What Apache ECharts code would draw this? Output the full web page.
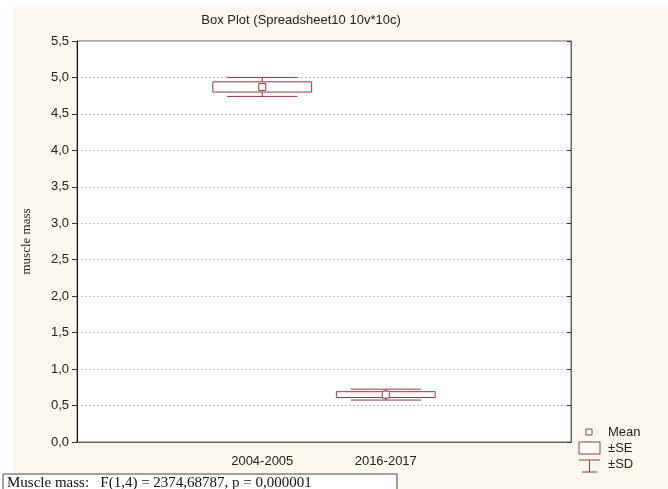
<!DOCTYPE html>
<html>
<head>
    <meta charset="UTF-8">
    <title>Box Plot</title>
    <script src="https://cdn.jsdelivr.net/npm/echarts@6/dist/echarts.min.js"></script>
    <style>
        html, body { margin: 0; padding: 0; background: #fff; }
        #main { width: 668px; height: 489px; }
    </style>
</head>
<body>
<div id="main"></div>
<script>
    // categories (first and last slot empty, like the original plot)
    var categories = ['', '2004-2005', '2016-2017', ''];
    var groupIndex = [1, 2];
    var means = [4.87, 0.65];
    var seValues = [0.07, 0.04];
    var sdValues = [0.13, 0.075];

    var boxColor = '#8c3a40';
    var font = 'Liberation Sans';

    var chart = echarts.init(document.getElementById('main'), null, {renderer: 'canvas'});

    var boxData = [];
    for (var i = 0; i < means.length; i++) {
        boxData.push([groupIndex[i], means[i], seValues[i], sdValues[i]]);
    }

    function fmt(v) {
        return v.toFixed(1).replace('.', ',');
    }

    function renderBox(params, api) {
        var idx = api.value(0), m = api.value(1), se = api.value(2), sd = api.value(3);
        var c = api.coord([idx, m]);
        var band = api.size([1, 0])[0];
        var boxHalf = band * 0.4;
        var capHalf = band * 0.285;
        var yBoxTop = api.coord([idx, m + se])[1];
        var yBoxBot = api.coord([idx, m - se])[1];
        var ySdTop = api.coord([idx, m + sd])[1];
        var ySdBot = api.coord([idx, m - sd])[1];
        var x = c[0];
        var st = {stroke: boxColor, lineWidth: 1, fill: null};
        return {
            type: 'group',
            children: [
                {type: 'line', shape: {x1: x, y1: ySdTop, x2: x, y2: yBoxTop}, style: st},
                {type: 'line', shape: {x1: x, y1: yBoxBot, x2: x, y2: ySdBot}, style: st},
                {type: 'line', shape: {x1: x - capHalf, y1: ySdTop, x2: x + capHalf, y2: ySdTop}, style: st},
                {type: 'line', shape: {x1: x - capHalf, y1: ySdBot, x2: x + capHalf, y2: ySdBot}, style: st},
                {type: 'rect', shape: {x: x - boxHalf, y: yBoxTop, width: boxHalf * 2, height: yBoxBot - yBoxTop},
                    style: {stroke: boxColor, lineWidth: 1, fill: '#fff'}},
                {type: 'rect', shape: {x: x - 3.5, y: c[1] - 3.5, width: 7, height: 7},
                    style: {stroke: boxColor, lineWidth: 1, fill: '#fff'}}
            ]
        };
    }

    var option = {
        backgroundColor: '#fdf8ee',
        animation: false,
        title: {
            text: 'Box Plot (Spreadsheet10 10v*10c)',
            left: 296, top: 9, textAlign: 'center',
            textStyle: {fontFamily: font, fontSize: 13, fontWeight: 'normal', color: '#222'}
        },
        grid: {
            left: 77, right: 97, top: 41, bottom: 47,
            show: true, backgroundColor: '#fff', borderColor: '#666', borderWidth: 1
        },
        xAxis: [{
            type: 'category', data: categories, boundaryGap: true,
            axisLine: {lineStyle: {color: '#555'}},
            axisTick: {alignWithLabel: true, inside: true, length: 4, lineStyle: {color: '#222'}},
            axisLabel: {fontFamily: font, fontSize: 13, color: '#222', margin: 13},
            splitLine: {show: false}
        }, {
            type: 'category', data: categories, position: 'top', boundaryGap: true,
            axisLine: {lineStyle: {color: '#666'}},
            axisTick: {alignWithLabel: true, inside: true, length: 4, lineStyle: {color: '#222'}},
            axisLabel: {show: false}
        }],
        yAxis: [{
            type: 'value', min: 0, max: 5.5, interval: 0.5,
            name: 'muscle mass', nameLocation: 'middle', nameGap: 44,
            nameTextStyle: {fontFamily: 'Liberation Serif', fontSize: 13, color: '#222'},
            axisLine: {show: true, lineStyle: {color: '#111'}},
            axisTick: {show: true, length: 5, lineStyle: {color: '#333'}},
            axisLabel: {fontFamily: font, fontSize: 13, color: '#222', margin: 8, formatter: fmt},
            splitLine: {show: true, lineStyle: {color: '#c4c4c4', type: [2, 2]}}
        }, {
            type: 'value', min: 0, max: 5.5, interval: 0.5, position: 'right',
            axisLine: {show: true, lineStyle: {color: '#666'}},
            axisTick: {show: true, inside: true, length: 4, lineStyle: {color: '#333'}},
            axisLabel: {show: false},
            splitLine: {show: false}
        }],
        series: [{
            type: 'custom',
            renderItem: renderBox,
            data: boxData,
            encode: {x: 0, y: 1},
            z: 5
        }],
        graphic: [
            {type: 'rect', left: 0, top: 0, shape: {width: 668, height: 7}, style: {fill: '#fff'}, silent: true},
            {type: 'rect', left: 0, top: 0, shape: {width: 13, height: 489}, style: {fill: '#fff'}, silent: true},
            // legend
            {type: 'rect', shape: {x: 586, y: 429, width: 6, height: 6}, style: {fill: '#fff', stroke: boxColor, lineWidth: 1}},
            {type: 'text', x: 608, y: 432, style: {text: 'Mean', font: '13px Liberation Sans', fill: '#222', verticalAlign: 'middle'}},
            {type: 'rect', shape: {x: 579, y: 442, width: 21, height: 12}, style: {fill: '#fff', stroke: boxColor, lineWidth: 1}},
            {type: 'text', x: 608, y: 448, style: {text: '±SE', font: '13px Liberation Sans', fill: '#222', verticalAlign: 'middle'}},
            {type: 'line', shape: {x1: 579, y1: 460, x2: 600, y2: 460}, style: {stroke: boxColor, lineWidth: 1}},
            {type: 'line', shape: {x1: 589.5, y1: 460, x2: 589.5, y2: 472}, style: {stroke: boxColor, lineWidth: 1}},
            {type: 'line', shape: {x1: 582, y1: 472, x2: 597, y2: 472}, style: {stroke: boxColor, lineWidth: 1}},
            {type: 'text', x: 608, y: 464, style: {text: '±SD', font: '13px Liberation Sans', fill: '#222', verticalAlign: 'middle'}},
            // ANOVA note box
            {type: 'rect', shape: {x: 3, y: 474, width: 394, height: 20}, style: {fill: '#fff', stroke: '#444', lineWidth: 1}},
            {type: 'text', x: 7, y: 483, style: {text: 'Muscle mass:   F(1,4) = 2374,68787, p = 0,000001', font: '15px Liberation Serif', fill: '#111', verticalAlign: 'middle'}}
        ]
    };

    chart.setOption(option);
</script>
</body>
</html>
